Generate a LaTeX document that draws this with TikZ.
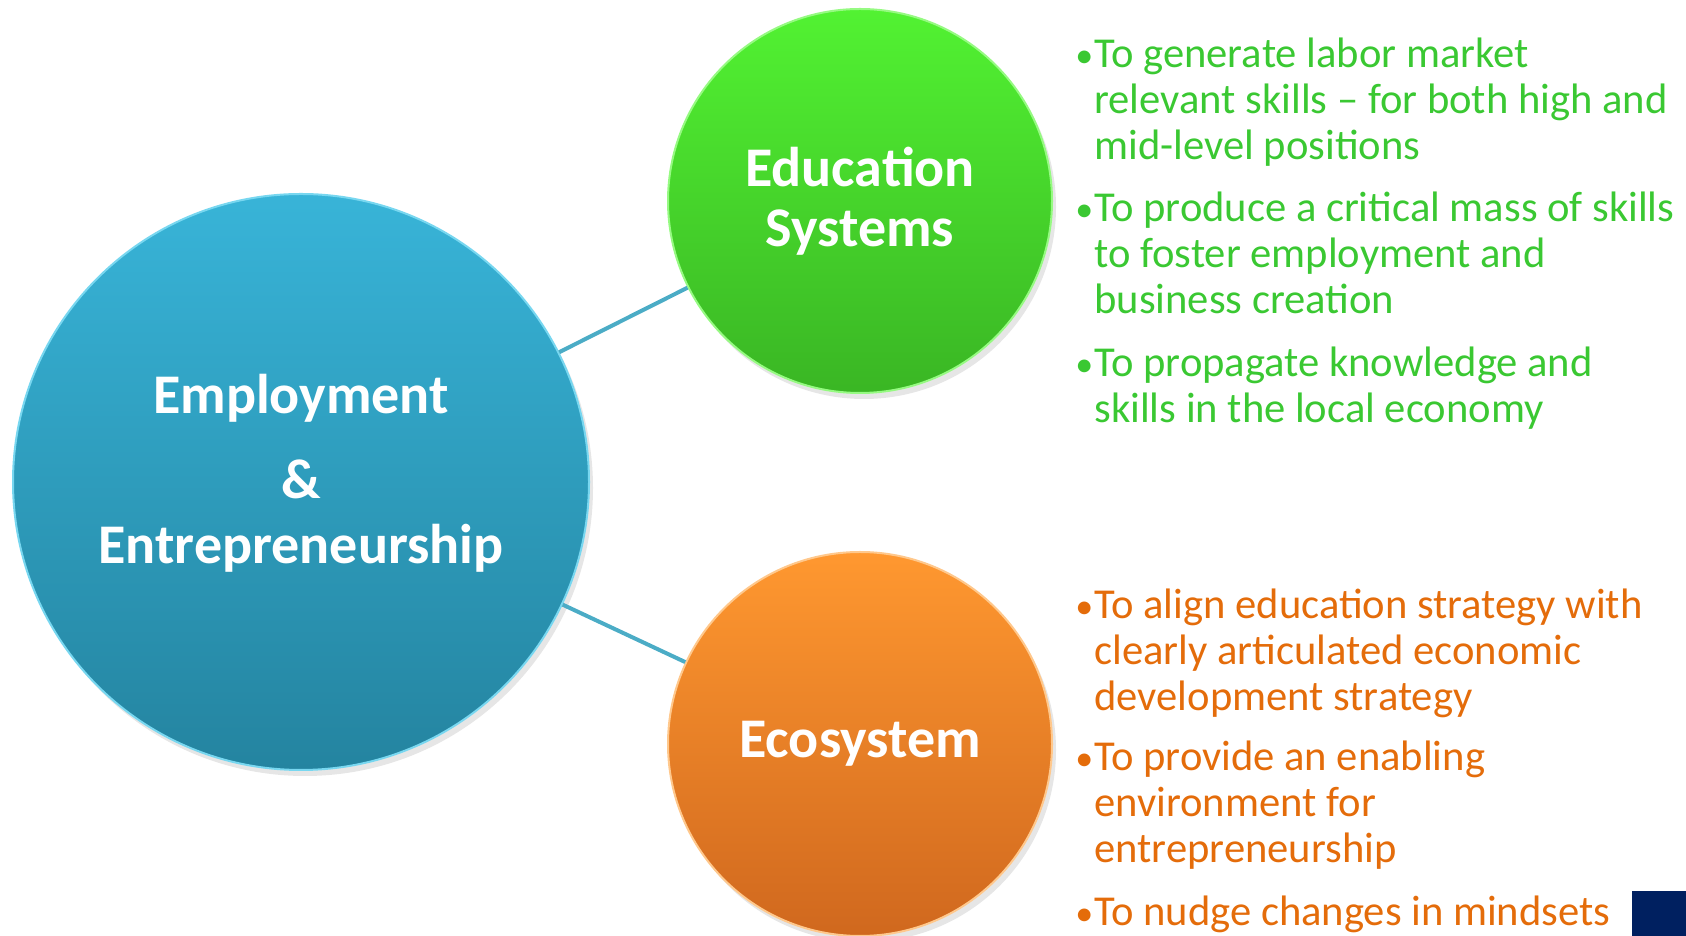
\documentclass[tikz,border=0pt]{standalone}
\usepackage{fontspec}
\setmainfont{Carlito}
\usetikzlibrary{shadows}

\definecolor{goalgreen}{RGB}{58,200,50}
\definecolor{goalorange}{RGB}{228,108,10}
\definecolor{linkblue}{RGB}{75,172,198}
\definecolor{cornernavy}{RGB}{0,32,96}

\newcommand{\bul}{\llap{\makebox[9.5pt][l]{\fontsize{18}{18}\selectfont •}}}

\tikzset{
    bubble/.style = {circle, inner sep = 0pt, align = center, text = white,
        font = \bfseries\fontsize{28}{30}\selectfont,
        drop shadow = {opacity = 0.2, shadow xshift = 2pt, shadow yshift = -3pt}},
    goal/.style = {anchor = base west, align = left, inner sep = 0pt,
        font = \fontsize{21.3}{23.1}\selectfont},
}

\begin{document}
\begin{tikzpicture}[x = 0.5pt, y = 0.5pt]
    \useasboundingbox (0, 0) rectangle (1686, 936);

    \node[bubble, minimum size = 288pt, text depth = 13.6pt, top color = {rgb,255:red,56;green,180;blue,216}, bottom color = {rgb,255:red,36;green,132;blue,160}, draw = {rgb,255:red,120;green,215;blue,240}, line width = 1pt] (emp) at (301, 454) {Employment\\[12.5pt] \&\\[2.5pt] Entrepreneurship};
    \node[bubble, minimum size = 192pt, top color = {rgb,255:red,82;green,242;blue,50}, bottom color = {rgb,255:red,58;green,182;blue,36}, draw = {rgb,255:red,150;green,250;blue,130}, line width = 1pt] (edu) at (860, 735) {Education\\ Systems};
    \node[bubble, minimum size = 192pt, top color = {rgb,255:red,255;green,152;blue,48}, bottom color = {rgb,255:red,208;green,104;blue,30}, draw = {rgb,255:red,255;green,200;blue,140}, line width = 1pt] (eco) at (860, 192) {Ecosystem};

    \draw[linkblue, line width = 2pt] (emp) -- (edu);
    \draw[linkblue, line width = 2pt] (emp) -- (eco);

    % base anchor sits on the last line
    \node[goal, text = goalgreen] (g1) at (1094, 776) {\bul To generate labor market\\ relevant skills -- for both high and\\ mid-level positions};
    \node[goal, text = goalgreen] (g2) at (1094, 622) {\bul To produce a critical mass of skills\\ to foster employment and\\ business creation};
    \node[goal, text = goalgreen] (g3) at (1094, 513) {\bul To propagate knowledge and\\ skills in the local economy};

    \node[goal, text = goalorange] (o1) at (1094, 225) {\bul To align education strategy with\\ clearly articulated economic\\ development strategy};
    \node[goal, text = goalorange] (o2) at (1094, 73) {\bul To provide an enabling\\ environment for\\ entrepreneurship};
    \node[goal, text = goalorange] (o3) at (1094, 10) {\bul To nudge changes in mindsets};

    \fill[cornernavy] (1632, 0) rectangle (1686, 45);
\end{tikzpicture}
\end{document}
